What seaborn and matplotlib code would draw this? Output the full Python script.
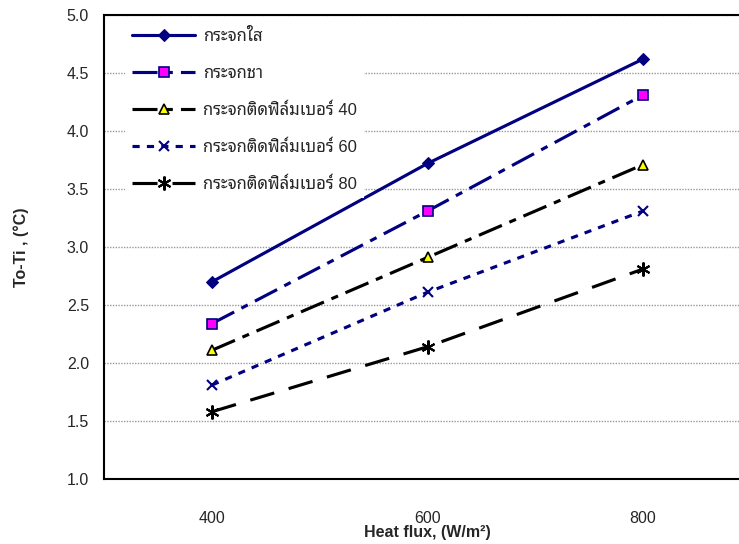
import matplotlib
matplotlib.use("Agg")
import matplotlib.pyplot as plt
import seaborn as sns
import pandas as pd
import numpy as np

# ---- data ----
heat_flux = ["400", "600", "800"]
series_names = [
    "กระจกใส",
    "กระจกชา",
    "กระจกติดฟิล์มเบอร์ 40",
    "กระจกติดฟิล์มเบอร์ 60",
    "กระจกติดฟิล์มเบอร์ 80",
]
clear_glass = [2.70, 3.72, 4.62]
tinted_glass = [2.34, 3.31, 4.31]
film_40 = [2.11, 2.91, 3.71]
film_60 = [1.81, 2.61, 3.31]
film_80 = [1.58, 2.14, 2.81]
y_ticks = [1.0, 1.5, 2.0, 2.5, 3.0, 3.5, 4.0, 4.5, 5.0]

values = [clear_glass, tinted_glass, film_40, film_60, film_80]
rows = []
for name, vals in zip(series_names, values):
    for i, (xl, v) in enumerate(zip(heat_flux, vals)):
        rows.append({"series": name, "pos": i, "flux": xl, "dT": v})
df = pd.DataFrame(rows)

sns.set_style("white")
plt.rcParams["font.family"] = ["Liberation Sans", "Noto Sans Thai Looped"]

navy = "#000080"
styles = [
    dict(color=navy, linestyle="-", marker="D", markersize=6,
         markerfacecolor=navy, markeredgecolor=navy),
    dict(color=navy, linestyle=(0, (8, 2.6, 2.3, 2.6)), marker="s", markersize=7.5,
         markerfacecolor="#FF00FF", markeredgecolor=navy, markeredgewidth=1.2),
    dict(color="black", linestyle=(0, (8, 2.6, 2.3, 2.6)), marker="^", markersize=7.5,
         markerfacecolor="#FFFF00", markeredgecolor="black", markeredgewidth=1.2),
    dict(color=navy, linestyle=(0, (2.3, 2.3)), marker="x", markersize=7,
         markeredgecolor=navy, markeredgewidth=1.5),
    dict(color="black", linestyle=(0, (8, 4.8)), marker=(6, 2, 0), markersize=10,
         markeredgecolor="black", markeredgewidth=1.5),
]

fig = plt.figure(figsize=(7.39, 5.44), dpi=100)
ax = fig.add_axes([104.25 / 739, 1 - 479 / 544, 646.5 / 739, 464 / 544])

for name, st in zip(series_names, styles):
    sub = df[df["series"] == name]
    sns.lineplot(data=sub, x="pos", y="dT", ax=ax, label=name, linewidth=2.25,
                 **st)

ax.set_xlim(-0.5, 2.5)
ax.set_ylim(1.0, 5.0)
ax.set_yticks(y_ticks)
ax.set_yticklabels([f"{t:.1f}" for t in y_ticks], fontsize=11.5)
ax.set_xticks(range(len(heat_flux)))
ax.set_xticklabels(heat_flux, fontsize=11.5)
ax.set_xticks([0.5, 1.5], minor=True)
ax.tick_params(axis="x", which="major", length=0, pad=23)
ax.tick_params(axis="x", which="minor", length=5, width=1, direction="out", color="black")
ax.tick_params(axis="y", which="major", length=5, width=1, direction="out", pad=6, color="black")

ax.yaxis.grid(True, color="#9a9a9a", linestyle=(0, (1, 1)), linewidth=1)
ax.xaxis.grid(False)
ax.set_axisbelow(True)

for s in ["left", "bottom", "top"]:
    ax.spines[s].set_visible(True)
    ax.spines[s].set_color("black")
    ax.spines[s].set_linewidth(1.5)

ax.set_xlabel("Heat flux, (W/m²)", fontsize=11.5, fontweight="bold", labelpad=-1)
ax.set_ylabel("To-Ti , (°C)", fontsize=11.5, fontweight="bold", labelpad=27)

leg = ax.legend(loc="upper left", bbox_to_anchor=(0.025, 0.997), frameon=True,
                fontsize=12, handlelength=3.8, handletextpad=0.48,
                labelspacing=1.3, borderpad=0.4, borderaxespad=0.3)
leg.get_frame().set_facecolor("white")
leg.get_frame().set_edgecolor("none")
leg.get_frame().set_alpha(1.0)
leg.get_frame().set_boxstyle("square", pad=0)

ax.spines["right"].set_visible(False)

fig.savefig("out.png", dpi=100)
